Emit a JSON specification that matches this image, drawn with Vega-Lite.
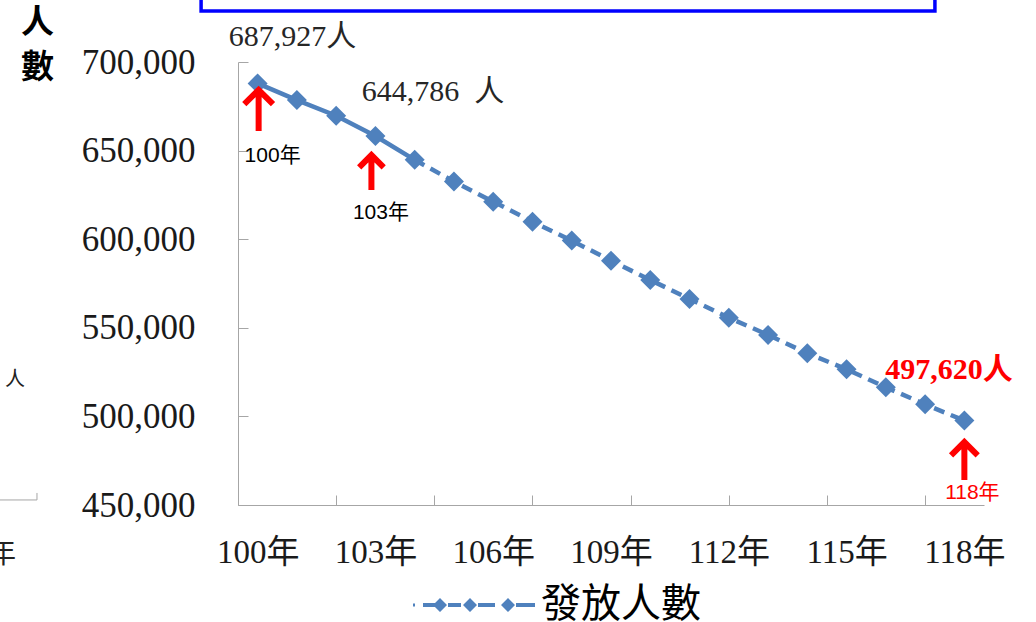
{
  "$schema": "https://vega.github.io/schema/vega-lite/v6.json",
  "width": 746,
  "height": 443,
  "autosize": {"type": "none"},
  "padding": {"left": 238, "top": 62, "right": 52, "bottom": 117},
  "background": "white",
  "config": {"view": {"stroke": null}},
  "datasets": {
    "issued": [
      {"year": 100, "value": 687927},
      {"year": 101, "value": 678500},
      {"year": 102, "value": 669700},
      {"year": 103, "value": 658200},
      {"year": 104, "value": 644786},
      {"year": 105, "value": 632500},
      {"year": 106, "value": 621200},
      {"year": 107, "value": 609900},
      {"year": 108, "value": 599200},
      {"year": 109, "value": 587900},
      {"year": 110, "value": 577000},
      {"year": 111, "value": 566300},
      {"year": 112, "value": 555700},
      {"year": 113, "value": 546000},
      {"year": 114, "value": 535600},
      {"year": 115, "value": 526600},
      {"year": 116, "value": 516400},
      {"year": 117, "value": 506800},
      {"year": 118, "value": 497620}
    ]
  },
  "data": {"name": "issued"},
  "resolve": {"axis": {"x": "independent"}},
  "layer": [
    {
      "transform": [{"filter": "datum.year <= 104"}],
      "mark": {"type": "line", "color": "#4F81BD", "strokeWidth": 4.5},
      "encoding": {
        "x": {
          "field": "year", "type": "quantitative",
          "scale": {"domain": [99.5, 118.5], "nice": false, "zero": false},
          "axis": {
            "orient": "bottom", "title": null, "labels": false, "grid": false,
            "values": [99.5, 102, 104.5, 107, 109.5, 112, 114.5, 117],
            "tickSize": -10, "tickColor": "#A6A6A6", "domainColor": "#A6A6A6"
          }
        },
        "y": {
          "field": "value", "type": "quantitative",
          "scale": {"domain": [450000, 700000], "nice": false, "zero": false},
          "axis": {
            "orient": "left",
            "values": [450000, 500000, 550000, 600000, 650000, 700000],
            "format": ",d", "grid": false,
            "labelFont": "Liberation Serif", "labelFontSize": 35, "labelColor": "#1a1a1a",
            "labelPadding": 53, "tickSize": -10, "tickColor": "#A6A6A6", "domainColor": "#A6A6A6",
            "title": ["人", "數"], "titleFont": "Noto Sans CJK TC", "titleFontWeight": "bold",
            "titleFontSize": 33, "titleColor": "black", "titleAngle": 0, "titleAlign": "center",
            "titleBaseline": "top", "titleX": -201, "titleY": -56, "titleLineHeight": 45
          }
        }
      }
    },
    {
      "transform": [{"filter": "datum.year >= 104"}],
      "mark": {"type": "line", "color": "#4F81BD", "strokeWidth": 4.5, "strokeDash": [11, 7]},
      "encoding": {
        "x": {
          "field": "year", "type": "quantitative",
          "axis": {
            "orient": "bottom", "title": null, "grid": false, "ticks": false, "domain": false,
            "values": [100, 103, 106, 109, 112, 115, 118],
            "labelExpr": "datum.value + '年'",
            "labelFont": "Liberation Serif, Noto Sans CJK TC", "labelFontSize": 33,
            "labelColor": "#1a1a1a", "labelPadding": 31
          }
        },
        "y": {"field": "value", "type": "quantitative"}
      }
    },
    {
      "mark": {"type": "point", "shape": "diamond", "filled": true, "size": 400, "opacity": 1},
      "encoding": {
        "x": {"field": "year", "type": "quantitative", "axis": null},
        "y": {"field": "value", "type": "quantitative"},
        "color": {
          "datum": "發放人數",
          "scale": {"range": ["#4F81BD"]},
          "legend": {
            "title": null, "orient": "none", "legendX": 217, "legendY": 523, "padding": 0,
            "symbolType": "M-12.4,-0.3H-12V0.3H-12.4Z M-10.4,-0.4H-8V0.4H-10.4Z M-8.4,0L-7,-1.4L-5.6,0L-7,1.4Z M-5.4,-0.4H-2.8V0.4H-5.4Z M-2.4,0L-1,-1.4L0.4,0L-1,1.4Z M0.6,-0.4H4V0.4H0.6Z M5.2,0L6.6,-1.4L8,0L6.6,1.4Z M8.2,-0.4H12V0.4H8.2Z",
            "symbolSize": 100, "symbolStrokeWidth": 0, "symbolFillColor": "#4F81BD",
            "labelFont": "Noto Sans CJK TC", "labelFontSize": 40, "labelColor": "black",
            "labelOffset": 46, "labelLimit": 400
          }
        }
      }
    },
    {
      "data": {"values": [{}]},
      "mark": {"type": "rect", "fill": null, "stroke": "#0000FF", "strokeWidth": 3.5},
      "encoding": {
        "x": {"datum": 98.56, "axis": null},
        "x2": {"datum": 117.25},
        "y": {"datum": 728800},
        "y2": {"datum": 770000}
      }
    },
    {
      "data": {"values": [{}]},
      "mark": {"type": "text", "align": "left", "baseline": "middle", "dx": -29, "dy": -46, "font": "Liberation Serif, Noto Sans CJK TC", "fontSize": 30, "color": "#262626", "text": "687,927人"},
      "encoding": {"x": {"datum": 100, "axis": null}, "y": {"datum": 687927}}
    },
    {
      "data": {"values": [{}]},
      "mark": {"type": "text", "align": "left", "baseline": "middle", "dx": -53, "dy": -68, "font": "Liberation Serif, Noto Sans CJK TC", "fontSize": 30, "color": "#262626", "text": "644,786 \u00a0人"},
      "encoding": {"x": {"datum": 104, "axis": null}, "y": {"datum": 644786}}
    },
    {
      "data": {"values": [{}]},
      "mark": {"type": "text", "align": "left", "baseline": "middle", "dx": -79, "dy": -51, "font": "Liberation Serif, Noto Sans CJK TC", "fontSize": 30, "fontWeight": "bold", "color": "#FF0000", "text": "497,620人"},
      "encoding": {"x": {"datum": 118, "axis": null}, "y": {"datum": 497620}}
    },
    {
      "data": {"values": [{}]},
      "mark": {"type": "point", "shape": "M0,-1L0,1M-0.7,-0.3L0,-1L0.7,-0.3", "filled": false, "stroke": "#FF0000", "strokeWidth": 6, "opacity": 1, "size": 1681, "xOffset": 1, "yOffset": 27},
      "encoding": {"x": {"datum": 100, "axis": null}, "y": {"datum": 687927}}
    },
    {
      "data": {"values": [{}]},
      "mark": {"type": "point", "shape": "M0,-1L0,1M-0.7,-0.3L0,-1L0.7,-0.3", "filled": false, "stroke": "#FF0000", "strokeWidth": 6, "opacity": 1, "size": 1225, "xOffset": -4, "yOffset": 36.5},
      "encoding": {"x": {"datum": 103, "axis": null}, "y": {"datum": 658200}}
    },
    {
      "data": {"values": [{}]},
      "mark": {"type": "point", "shape": "M0,-1L0,1M-0.7,-0.3L0,-1L0.7,-0.3", "filled": false, "stroke": "#FF0000", "strokeWidth": 6, "opacity": 1, "size": 1444, "xOffset": 0, "yOffset": 40.5},
      "encoding": {"x": {"datum": 118, "axis": null}, "y": {"datum": 497620}}
    },
    {
      "data": {"values": [{}]},
      "mark": {"type": "text", "align": "center", "baseline": "middle", "dx": 15, "dy": 73, "font": "Liberation Sans, Noto Sans CJK TC", "fontSize": 21, "color": "black", "text": "100年"},
      "encoding": {"x": {"datum": 100, "axis": null}, "y": {"datum": 687927}}
    },
    {
      "data": {"values": [{}]},
      "mark": {"type": "text", "align": "center", "baseline": "middle", "dx": 5.5, "dy": 76.5, "font": "Liberation Sans, Noto Sans CJK TC", "fontSize": 21, "color": "black", "text": "103年"},
      "encoding": {"x": {"datum": 103, "axis": null}, "y": {"datum": 658200}}
    },
    {
      "data": {"values": [{}]},
      "mark": {"type": "text", "align": "center", "baseline": "middle", "dx": 8, "dy": 72, "font": "Liberation Sans, Noto Sans CJK TC", "fontSize": 21, "color": "#FF0000", "text": "118年"},
      "encoding": {"x": {"datum": 118, "axis": null}, "y": {"datum": 497620}}
    },
    {
      "data": {"values": [{}]},
      "mark": {"type": "text", "align": "center", "baseline": "middle", "font": "Noto Sans CJK TC", "fontSize": 20, "color": "#222222", "text": "人"},
      "encoding": {"x": {"datum": 93.82, "axis": null}, "y": {"datum": 520550}}
    },
    {
      "data": {"values": [{}]},
      "mark": {"type": "text", "align": "center", "baseline": "middle", "font": "Noto Sans CJK TC", "fontSize": 28, "color": "#222222", "text": "年"},
      "encoding": {"x": {"datum": 93.49, "axis": null}, "y": {"datum": 421800}}
    },
    {
      "data": {"values": [{}]},
      "mark": {"type": "rule", "color": "#A6A6A6", "strokeWidth": 1},
      "encoding": {"x": {"datum": 93.4, "axis": null}, "x2": {"datum": 94.38}, "y": {"datum": 452840}}
    },
    {
      "data": {"values": [{}]},
      "mark": {"type": "rule", "color": "#A6A6A6", "strokeWidth": 1},
      "encoding": {"x": {"datum": 94.38, "axis": null}, "y": {"datum": 452840}, "y2": {"datum": 456790}}
    }
  ]
}
